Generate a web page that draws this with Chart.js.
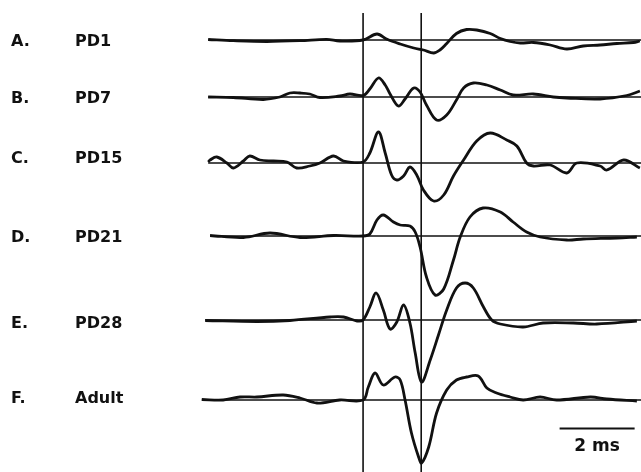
<!DOCTYPE html>
<html>
<head>
<meta charset="utf-8">
<title>Evoked responses PD1 - Adult</title>
<script src="https://cdn.jsdelivr.net/npm/chart.js@4.4.0/dist/chart.umd.min.js"></script>
<style>
    html, body { margin: 0; padding: 0; background: #ffffff; overflow: hidden; }
    #traceChart { display: block; }
</style>
</head>
<body>
<canvas id="traceChart" width="641" height="472"></canvas>
<script>
// Row labels
const rowLetters = ['A.', 'B.', 'C.', 'D.', 'E.', 'F.'];
const rowNames = ['PD1', 'PD7', 'PD15', 'PD21', 'PD28', 'Adult'];

// Traces: time (ms from first marker) and amplitude (arbitrary units, up = positive)
const timePD1 = [-4.13, -3.46, -2.57, -1.68, -0.97, -0.62, 0, 0.37, 0.64, 0.99, 1.35, 1.61, 1.88, 2.05, 2.23, 2.49, 2.76, 3.03, 3.39, 3.66, 3.92, 4.19, 4.54, 4.99, 5.43, 5.87, 6.32, 6.77, 7.21, 7.38];
const ampPD1 = [0.5, -0.7, -1.5, -0.7, 0.7, -1, 0, 6, 0.7, -4, -8, -10, -13, -10, -3.5, 6.5, 10.5, 10, 6.5, 1.5, -1.5, -3, -2.5, -5, -9, -6, -5, -3.5, -2.5, -1];

const timePD7 = [-4.13, -3.46, -2.66, -2.22, -1.95, -1.68, -1.42, -1.15, -0.62, -0.35, 0, 0.18, 0.41, 0.59, 0.72, 0.94, 1.12, 1.35, 1.52, 1.69, 1.96, 2.23, 2.49, 2.68, 2.94, 3.30, 3.66, 4.00, 4.54, 5.07, 5.43, 6.32, 7.03, 7.38];
const ampPD7 = [0, -0.5, -2.5, 0, 4, 4, 3, -0.5, 1, 3, 1.5, 8, 19, 12, 3, -9, -2, 9, 5, -8, -23, -18, -3, 9, 14, 12, 7, 2, 3, 0, -1, -2, 1.5, 6];

const timePD15 = [-4.13, -4.08, -3.90, -3.63, -3.46, -3.19, -3.02, -2.75, -2.39, -2.03, -1.77, -1.42, -1.15, -0.79, -0.52, 0, 0.18, 0.41, 0.59, 0.76, 0.90, 1.08, 1.25, 1.43, 1.61, 1.88, 2.15, 2.41, 2.68, 3.03, 3.39, 3.83, 4.10, 4.36, 4.54, 4.99, 5.43, 5.70, 6.32, 6.50, 6.95, 7.38];
const ampPD15 = [1, 3, 6, 0, -5, 2, 7, 3, 2, 1, -5, -3, 0, 7, 2, 1, 10, 31, 10, -12, -17, -13, -4, -12, -27, -38, -32, -13, 3, 22, 30, 23, 17, 0, -3, -2, -10, 0, -3, -7, 3, -5];

const timePD21 = [-4.08, -3.19, -2.48, -1.68, -0.79, 0, 0.18, 0.37, 0.54, 0.81, 0.99, 1.25, 1.39, 1.52, 1.69, 1.92, 2.15, 2.41, 2.59, 2.85, 3.20, 3.66, 4.00, 4.36, 4.72, 5.43, 5.87, 6.77, 7.30];
const ampPD21 = [0.5, -1.5, 3, -1.5, 0.5, 0, 2, 16, 21, 14, 11, 10, 4, -11, -41, -59, -53, -24, -1, 19, 28, 24, 14, 4, -1, -4, -3, -2, -1];

const timePD28 = [-4.21, -2.83, -1.95, -0.88, -0.52, -0.16, 0, 0.18, 0.35, 0.54, 0.72, 0.90, 1.08, 1.25, 1.39, 1.56, 1.79, 2.01, 2.23, 2.49, 2.72, 2.94, 3.21, 3.43, 3.66, 4.27, 4.80, 5.61, 6.23, 7.30];
const ampPD28 = [-0.5, -1.5, -0.5, 3, 3, -1, 0, 13, 27, 10, -9, -2, 15, -3, -33, -62, -40, -15, 10, 32, 37, 32, 13, 0, -4, -7, -3, -3, -4, -1];

const timeAdult = [-4.30, -3.73, -3.28, -2.83, -2.13, -1.68, -1.23, -0.62, 0, 0.14, 0.32, 0.54, 0.85, 0.99, 1.12, 1.29, 1.48, 1.56, 1.75, 1.96, 2.23, 2.49, 2.76, 3.07, 3.30, 3.56, 3.92, 4.27, 4.72, 5.16, 6.06, 6.50, 7.30];
const ampAdult = [0.5, 0, 3, 3, 5, 2, -3, 0, 0, 13, 27, 15, 23, 20, 0, -33, -57, -63, -47, -13, 10, 20, 23, 24, 12, 7, 3, 0, 3, 0, 3, 1, -1];

// Vertical marker lines (ms) and scale bar
const markerTimes = [0, 1.55];
const scaleBarStart = 5.24;
const scaleBarLength = 2;
const scaleBarLabel = '2 ms';

// Layout (canvas pixels)
const X_MIN = -9.68;
const X_MAX = 7.41;
const rowBaseY = [40, 97, 163, 236, 320, 400];
const rowTextY = [45.7, 103.3, 163, 241.7, 328, 403.3];
const markerTop = 13;
const scaleBarY = 428.5;
const INK = '#111111';

const traceTimes = [timePD1, timePD7, timePD15, timePD21, timePD28, timeAdult];
const traceAmps = [ampPD1, ampPD7, ampPD15, ampPD21, ampPD28, ampAdult];

function buildDatasets() {
    const datasets = [];

    // thin reference baselines
    traceTimes.forEach((times, i) => {
        datasets.push({
            data: [{ x: times[0], y: rowBaseY[i] }, { x: X_MAX, y: rowBaseY[i] }],
            borderColor: INK,
            borderWidth: 1.3,
            pointRadius: 0,
            tension: 0
        });
    });

    markerTimes.forEach(t => {
        datasets.push({
            data: [{ x: t, y: markerTop }, { x: t, y: 472 }],
            borderColor: INK,
            borderWidth: 1.6,
            pointRadius: 0,
            tension: 0
        });
    });

    traceTimes.forEach((times, i) => {
        datasets.push({
            label: rowNames[i],
            data: times.map((t, j) => ({ x: t, y: rowBaseY[i] - traceAmps[i][j] })),
            borderColor: INK,
            borderWidth: 2.8,
            pointRadius: 0,
            tension: 0.35,
            clip: false
        });
    });

    datasets.push({
        data: [{ x: scaleBarStart, y: scaleBarY }, { x: scaleBarStart + scaleBarLength, y: scaleBarY }],
        borderColor: INK,
        borderWidth: 2,
        pointRadius: 0,
        tension: 0
    });

    return datasets;
}

const labelPlugin = {
    id: 'rowLabels',
    afterDraw(chart) {
        const ctx = chart.ctx;
        const xScale = chart.scales.x;
        ctx.save();
        ctx.fillStyle = INK;
        ctx.textBaseline = 'alphabetic';
        ctx.font = 'bold 16px "DejaVu Sans"';
        ctx.textAlign = 'left';
        rowLetters.forEach((letter, i) => {
            ctx.fillText(letter, 11, rowTextY[i]);
            ctx.fillText(rowNames[i], 75, rowTextY[i]);
        });

        ctx.font = 'bold 17px "DejaVu Sans"';
        ctx.textAlign = 'center';
        const mid = xScale.getPixelForValue(scaleBarStart + scaleBarLength / 2);
        ctx.fillText(scaleBarLabel, mid, 451);
        ctx.restore();
    }
};

document.addEventListener('DOMContentLoaded', () => {
    const ctx = document.getElementById('traceChart').getContext('2d');

    new Chart(ctx, {
        type: 'line',
        data: { datasets: buildDatasets() },
        options: {
            responsive: false,
            animation: false,
            layout: { padding: 0 },
            plugins: {
                legend: { display: false },
                tooltip: { enabled: false }
            },
            scales: {
                x: { type: 'linear', min: X_MIN, max: X_MAX, display: false },
                y: { type: 'linear', min: 0, max: 472, reverse: true, display: false }
            }
        },
        plugins: [labelPlugin]
    });
});
</script>
</body>
</html>
